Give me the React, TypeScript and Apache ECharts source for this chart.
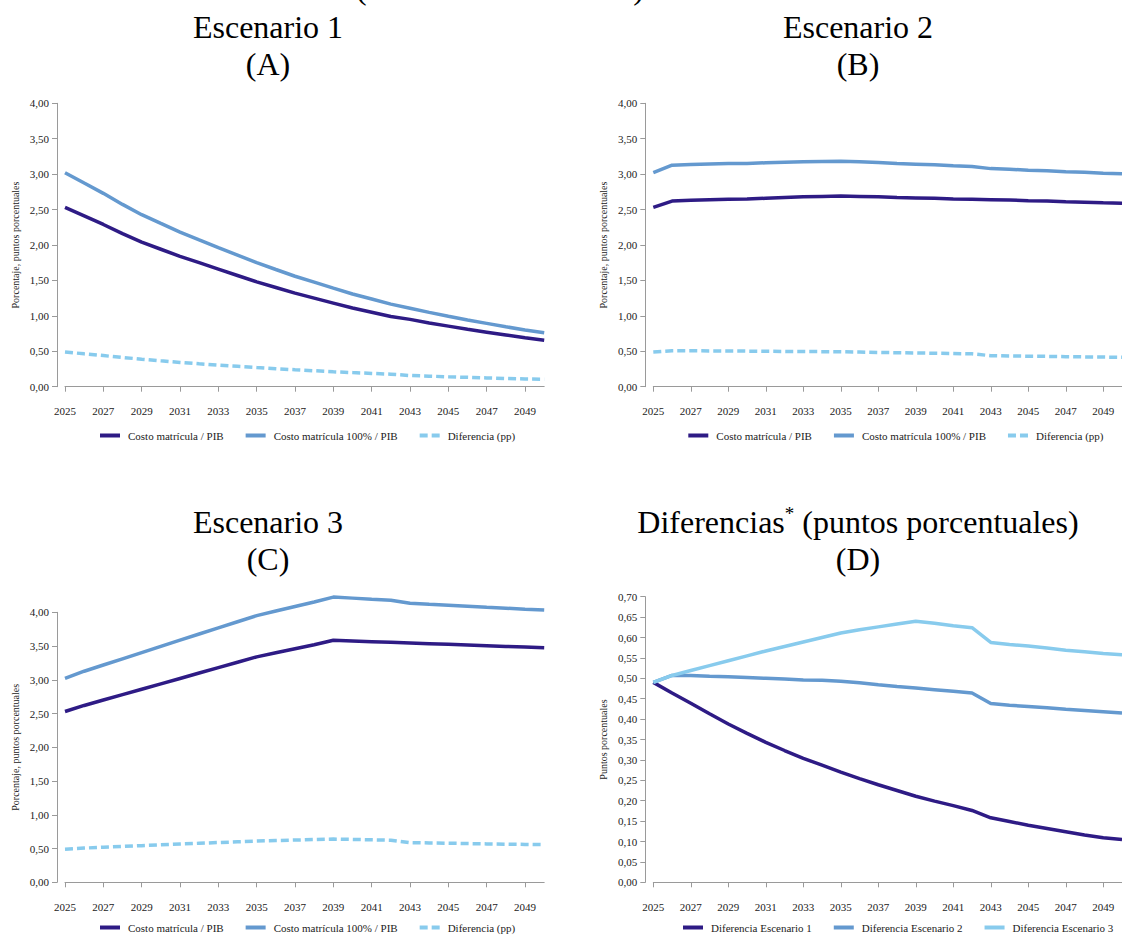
import React, { useEffect, useRef } from "react";
import * as echarts from "echarts";

// Projection years
const years = [
  "2025", "2026", "2027", "2028", "2029", "2030", "2031", "2032", "2033",
  "2034", "2035", "2036", "2037", "2038", "2039", "2040", "2041", "2042",
  "2043", "2044", "2045", "2046", "2047", "2048", "2049", "2050",
];

// Escenario 1
const costoE1 = [2.53, 2.41, 2.29, 2.16, 2.04, 1.94, 1.84, 1.75, 1.66, 1.57, 1.48, 1.4, 1.32, 1.25, 1.18, 1.11, 1.05, 0.99, 0.95, 0.9, 0.855, 0.81, 0.77, 0.73, 0.69, 0.655];
const costo100E1 = [3.02, 2.874, 2.729, 2.573, 2.428, 2.305, 2.183, 2.073, 1.964, 1.857, 1.75, 1.654, 1.559, 1.475, 1.391, 1.309, 1.238, 1.166, 1.108, 1.049, 0.995, 0.942, 0.894, 0.846, 0.799, 0.76];
const difE1 = [0.49, 0.464, 0.439, 0.413, 0.388, 0.365, 0.343, 0.323, 0.304, 0.287, 0.27, 0.254, 0.239, 0.225, 0.211, 0.199, 0.188, 0.176, 0.158, 0.149, 0.14, 0.132, 0.124, 0.116, 0.109, 0.105];

// Escenario 2
const costoE2 = [2.53, 2.62, 2.63, 2.64, 2.645, 2.65, 2.66, 2.67, 2.68, 2.685, 2.69, 2.685, 2.68, 2.67, 2.665, 2.66, 2.65, 2.645, 2.64, 2.635, 2.625, 2.62, 2.61, 2.605, 2.595, 2.59];
const costo100E2 = [3.02, 3.127, 3.137, 3.145, 3.149, 3.152, 3.16, 3.168, 3.176, 3.18, 3.183, 3.174, 3.164, 3.15, 3.141, 3.132, 3.118, 3.109, 3.078, 3.069, 3.056, 3.048, 3.034, 3.026, 3.013, 3.005];
const difE2 = [0.49, 0.507, 0.507, 0.505, 0.504, 0.502, 0.5, 0.498, 0.496, 0.495, 0.493, 0.489, 0.484, 0.48, 0.476, 0.472, 0.468, 0.464, 0.438, 0.434, 0.431, 0.428, 0.424, 0.421, 0.418, 0.415];

// Escenario 3
const costoE3 = [2.53, 2.62, 2.7, 2.78, 2.86, 2.94, 3.02, 3.1, 3.18, 3.26, 3.34, 3.4, 3.46, 3.52, 3.585, 3.575, 3.565, 3.555, 3.545, 3.535, 3.525, 3.515, 3.505, 3.495, 3.485, 3.475];
const costo100E3 = [3.02, 3.127, 3.219, 3.311, 3.403, 3.495, 3.587, 3.678, 3.769, 3.86, 3.951, 4.019, 4.086, 4.153, 4.225, 4.21, 4.194, 4.179, 4.133, 4.118, 4.104, 4.089, 4.074, 4.06, 4.046, 4.033];
const difE3 = [0.49, 0.507, 0.519, 0.531, 0.543, 0.555, 0.567, 0.578, 0.589, 0.6, 0.611, 0.619, 0.626, 0.633, 0.64, 0.635, 0.629, 0.624, 0.588, 0.583, 0.579, 0.574, 0.569, 0.565, 0.561, 0.558];

const NAME_COSTO = "Costo matrícula / PIB";
const NAME_COSTO100 = "Costo matrícula 100% / PIB";
const NAME_DIF = "Diferencia (pp)";
const NAME_D1 = "Diferencia Escenario 1";
const NAME_D2 = "Diferencia Escenario 2";
const NAME_D3 = "Diferencia Escenario 3";

const DARK = "#2e1b85";
const MID = "#6499cf";
const LIGHT = "#88cbed";
const AXIS = "#9a9a9a";
const TEXT = "#222";
const FONT = "Liberation Serif";

// Legend glyphs: a solid bar and a two-dash bar
const ICON_SOLID = "path://M0,0H20V4H0Z";
const ICON_DASH = "path://M0,0H8V4H0ZM12,0H20V4H12Z";

const fmt = (v: number) => v.toFixed(2).replace(".", ",");

type Panel = {
  left: number;
  top: number;
  width: number;
  height: number;
  max: number;
  interval: number;
  yName: string;
  legendLeft: number;
  legendTop: number;
  series: { name: string; data: number[]; color: string; dashed?: boolean }[];
};

const panels: Panel[] = [
  {
    left: 65, top: 103.3, width: 479.2, height: 283.4, max: 4, interval: 0.5,
    yName: "Porcentaje, puntos porcentuales", legendLeft: 100, legendTop: 430,
    series: [
      { name: NAME_COSTO, data: costoE1, color: DARK },
      { name: NAME_COSTO100, data: costo100E1, color: MID },
      { name: NAME_DIF, data: difE1, color: LIGHT, dashed: true },
    ],
  },
  {
    left: 653.3, top: 103.3, width: 479.2, height: 283.4, max: 4, interval: 0.5,
    yName: "Porcentaje, puntos porcentuales", legendLeft: 688.3, legendTop: 430,
    series: [
      { name: NAME_COSTO, data: costoE2, color: DARK },
      { name: NAME_COSTO100, data: costo100E2, color: MID },
      { name: NAME_DIF, data: difE2, color: LIGHT, dashed: true },
    ],
  },
  {
    left: 65, top: 612.3, width: 479.2, height: 270, max: 4, interval: 0.5,
    yName: "Porcentaje, puntos porcentuales", legendLeft: 100, legendTop: 922,
    series: [
      { name: NAME_COSTO, data: costoE3, color: DARK },
      { name: NAME_COSTO100, data: costo100E3, color: MID },
      { name: NAME_DIF, data: difE3, color: LIGHT, dashed: true },
    ],
  },
  {
    left: 653.3, top: 596.7, width: 479.2, height: 285.6, max: 0.7, interval: 0.05,
    yName: "Puntos porcentuales", legendLeft: 683, legendTop: 922,
    series: [
      { name: NAME_D1, data: difE1, color: DARK },
      { name: NAME_D2, data: difE2, color: MID },
      { name: NAME_D3, data: difE3, color: LIGHT },
    ],
  },
];

const titleText = (x: number, y: number, text: string) => ({
  type: "text",
  x,
  y,
  silent: true,
  style: {
    text,
    fill: "#000",
    fontFamily: FONT,
    fontSize: 32,
    align: "center",
    verticalAlign: "middle",
  },
});

function buildOption() {
  const grid: any[] = [];
  const xAxis: any[] = [];
  const yAxis: any[] = [];
  const legend: any[] = [];
  const series: any[] = [];

  panels.forEach((p, i) => {
    grid.push({ left: p.left, top: p.top, width: p.width, height: p.height, containLabel: false });
    xAxis.push({
      type: "category",
      gridIndex: i,
      data: years,
      boundaryGap: false,
      offset: 10,
      axisLine: { show: true, lineStyle: { color: AXIS, width: 1 } },
      axisTick: { show: true, interval: 1, length: 5, lineStyle: { color: AXIS } },
      axisLabel: { interval: 1, margin: 9, color: TEXT, fontFamily: FONT, fontSize: 11 },
      splitLine: { show: false },
    });
    yAxis.push({
      type: "value",
      gridIndex: i,
      min: 0,
      max: p.max,
      interval: p.interval,
      offset: 8,
      name: p.yName,
      nameLocation: "middle",
      nameGap: 37,
      nameTextStyle: { color: TEXT, fontFamily: FONT, fontSize: 10 },
      axisLine: { show: true, lineStyle: { color: AXIS, width: 1 } },
      axisTick: { show: true, length: 5, lineStyle: { color: AXIS } },
      axisLabel: { margin: 8, color: TEXT, fontFamily: FONT, fontSize: 11, formatter: fmt },
      splitLine: { show: false },
    });
    legend.push({
      data: p.series.map((s) => ({ name: s.name, icon: s.dashed ? ICON_DASH : ICON_SOLID })),
      left: p.legendLeft,
      top: p.legendTop,
      orient: "horizontal",
      padding: 0,
      itemWidth: 20,
      itemHeight: 4.5,
      itemGap: 22,
      selectedMode: false,
      itemStyle: { borderWidth: 0 },
      textStyle: { color: TEXT, fontFamily: FONT, fontSize: 11, padding: [0, 0, 0, 3] },
    });
    p.series.forEach((s) => {
      series.push({
        type: "line",
        name: s.name,
        xAxisIndex: i,
        yAxisIndex: i,
        data: s.data,
        symbol: "none",
        clip: false,
        color: s.color,
        itemStyle: { color: s.color },
        lineStyle: {
          color: s.color,
          width: 3.5,
          type: s.dashed ? [8, 4] : "solid",
        },
      });
    });
  });

  const graphic: any[] = [
    {
      type: "text",
      x: 500,
      y: -12,
      silent: true,
      style: { text: "(como % del PIB real)", fill: "#000", fontFamily: FONT, fontSize: 32, align: "center", verticalAlign: "middle" },
    },
    titleText(268, 27, "Escenario 1"),
    titleText(268, 64, "(A)"),
    titleText(858, 27, "Escenario 2"),
    titleText(858, 64, "(B)"),
    titleText(268, 522, "Escenario 3"),
    titleText(268, 559, "(C)"),
    {
      type: "text",
      x: 858,
      y: 522,
      silent: true,
      style: {
        text: "{m|Diferencias}{s|*}{m| (puntos porcentuales)}",
        align: "center",
        verticalAlign: "middle",
        rich: {
          m: { fontFamily: FONT, fontSize: 32, color: "#000", lineHeight: 36 },
          s: { fontFamily: FONT, fontSize: 19, color: "#000", lineHeight: 36, verticalAlign: "top", padding: [0, 0, 14, 0] },
        },
      },
    },
    titleText(858, 559, "(D)"),
  ];

  return {
    animation: false,
    backgroundColor: "#fff",
    textStyle: { fontFamily: FONT },
    grid,
    xAxis,
    yAxis,
    legend,
    series,
    graphic,
  };
}

export default function App() {
  const ref = useRef<HTMLDivElement>(null);
  useEffect(() => {
    if (!ref.current) return;
    const chart = echarts.init(ref.current, undefined, { renderer: "svg" });
    chart.setOption(buildOption() as any);
    return () => chart.dispose();
  }, []);
  return (
    <div
      ref={ref}
      style={{ position: "absolute", left: 0, top: 0, width: 1122, height: 935, background: "#fff" }}
    />
  );
}
